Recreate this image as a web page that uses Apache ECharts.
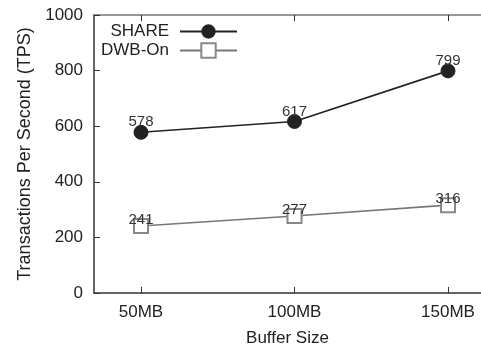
<!DOCTYPE html>
<html>
<head>
<meta charset="utf-8">
<script src="https://cdn.jsdelivr.net/npm/echarts@6/dist/echarts.min.js"></script>
<style>html,body{margin:0;padding:0;background:#fff;}#c{width:481px;height:352px;}</style>
</head>
<body>
<div id="c"></div>
<script>
const categories = ['50MB', '100MB', '150MB'];
const bufferMB = [50, 100, 150];
const shareValues = [578, 617, 799];
const dwbOnValues = [241, 277, 316];
const yTicks = [0, 200, 400, 600, 800, 1000];

const FONT = 'Liberation Sans, Arial, sans-serif';
const chart = echarts.init(document.getElementById('c'));
const xMin = 34.69, xMax = 160.75;
const fmtX = v => { const i = bufferMB.indexOf(v); return i >= 0 ? categories[i] : ''; };

chart.setOption({
  animation: false,
  backgroundColor: '#fff',
  textStyle: { fontFamily: FONT },
  grid: { left: 94, right: 0, top: 15, bottom: 55 },
  legend: [
    {
      data: ['SHARE'], orient: 'vertical', right: 238, top: 18, align: 'right',
      itemWidth: 57, itemHeight: 18, itemGap: 4,
      textStyle: { fontSize: 17, color: '#222', fontFamily: FONT, padding: [0, 6, 0, 0] }
    },
    {
      data: ['DWB-On'], orient: 'vertical', right: 238, top: 37, align: 'right',
      itemWidth: 57, itemHeight: 18, itemGap: 4,
      textStyle: { fontSize: 17, color: '#222', fontFamily: FONT, padding: [0, 6, 0, 0] }
    }
  ],
  xAxis: [
    {
      type: 'value', position: 'bottom', min: xMin, max: xMax,
      name: 'Buffer Size', nameLocation: 'middle', nameGap: 37,
      nameTextStyle: { fontSize: 17, color: '#222', fontFamily: FONT },
      axisLine: { show: true, lineStyle: { color: '#333', width: 1.5 } },
      axisTick: { show: true, inside: true, length: 6, customValues: bufferMB, lineStyle: { color: '#333' } },
      axisLabel: { show: true, customValues: bufferMB, formatter: fmtX, fontSize: 17, color: '#222', margin: 11, fontFamily: FONT },
      splitLine: { show: false }
    },
    {
      type: 'value', position: 'top', min: xMin, max: xMax,
      axisLine: { show: true, lineStyle: { color: '#777', width: 1.5 } },
      axisTick: { show: true, inside: true, length: 6, customValues: bufferMB, lineStyle: { color: '#333' } },
      axisLabel: { show: false },
      splitLine: { show: false }
    }
  ],
  yAxis: {
    type: 'value', min: 0, max: 1000, interval: 200,
    name: 'Transactions Per Second (TPS)', nameLocation: 'middle', nameGap: 58, nameRotate: 90,
    nameTextStyle: { fontSize: 18, color: '#222', fontFamily: FONT },
    axisLine: { show: true, lineStyle: { color: '#333', width: 1.5 } },
    axisTick: { show: true, inside: true, length: 6, lineStyle: { color: '#333' } },
    axisLabel: { fontSize: 17, color: '#222', margin: 11, fontFamily: FONT,
                 formatter: v => yTicks.indexOf(v) >= 0 ? String(v) : '' },
    splitLine: { show: false }
  },
  series: [
    {
      name: 'SHARE', type: 'line',
      data: bufferMB.map((x, i) => [x, shareValues[i]]),
      symbol: 'circle', symbolSize: 14,
      lineStyle: { color: '#222', width: 1.6 },
      itemStyle: { color: '#222', borderColor: '#222' },
      label: { show: true, position: 'top', distance: -5, fontSize: 15, color: '#333', fontFamily: FONT,
               formatter: p => String(p.value[1]) }
    },
    {
      name: 'DWB-On', type: 'line',
      data: bufferMB.map((x, i) => [x, dwbOnValues[i]]),
      symbol: 'rect', symbolSize: 14,
      lineStyle: { color: '#777', width: 1.6 },
      itemStyle: { color: '#fff', borderColor: '#888', borderWidth: 2 },
      label: { show: true, position: 'top', distance: -9, fontSize: 15, color: '#333', fontFamily: FONT,
               formatter: p => String(p.value[1]) }
    }
  ]
});
</script>
</body>
</html>
